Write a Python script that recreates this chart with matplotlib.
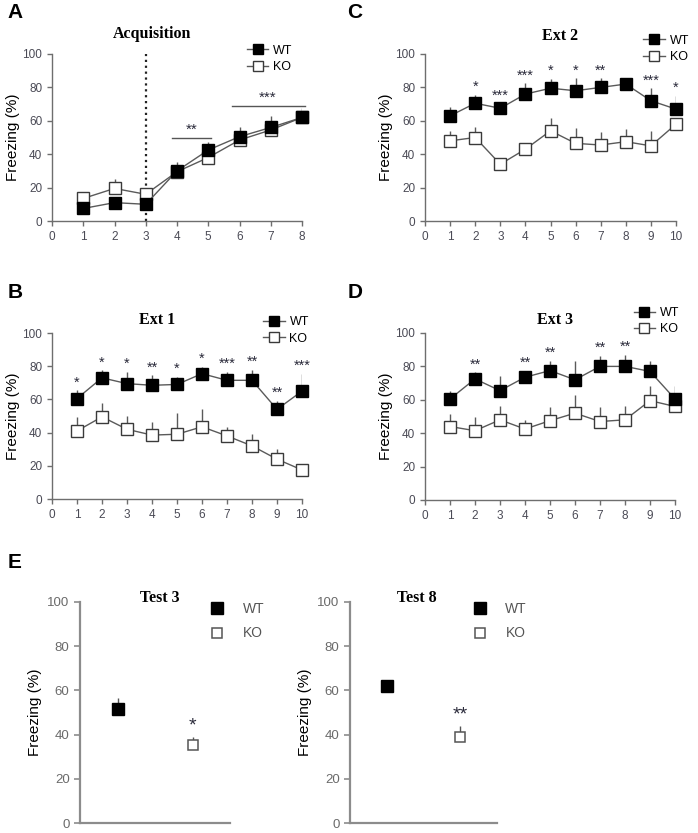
import matplotlib
matplotlib.use('Agg')
import matplotlib.pyplot as plt
import numpy as np

plt.rcParams['font.family'] = ['Liberation Sans', 'DejaVu Sans']

# Acquisition (panel A)
acq_x = [1, 2, 3, 4, 5, 6, 7, 8]
acq_wt = [7.5, 11, 10, 30, 42.5, 50.5, 56, 62]
acq_wt_err = [0, 0, 0, 5.5, 5, 5.5, 7, 5.5]
acq_ko = [13.5, 19.5, 16, 29.5, 38, 48.5, 54.5, 62]
acq_ko_err = [3.5, 5.5, 0, 0, 0, 0, 0, 0]

# Extinction sessions
ext_x = [1, 2, 3, 4, 5, 6, 7, 8, 9, 10]
ext1_wt = [60.5, 73, 69.5, 68.5, 69, 75.5, 71.5, 71.5, 54, 65]
ext1_wt_err = [5, 4.5, 7, 6, 4.5, 4, 5, 6.5, 5, 10.5]
ext1_ko = [41, 49.5, 42, 38.5, 39, 43.5, 38, 32, 24, 17.5]
ext1_ko_err = [8.5, 8.5, 8, 8, 13, 10.5, 5.5, 7, 6, 0]
ext1_stars = ['*', '*', '*', '**', '*', '*', '***', '**', '**', '***']

ext2_wt = [63, 70.5, 67.5, 76, 79.5, 78, 80, 82, 72, 67]
ext2_wt_err = [5, 5, 0, 6.5, 5.5, 7.5, 5.5, 0, 7.5, 8]
ext2_ko = [48, 50, 34, 43, 54, 46.5, 45.5, 47.5, 45, 58]
ext2_ko_err = [6, 6, 0, 3, 7.5, 9, 7.5, 7.5, 9, 0]
ext2_stars = ['', '*', '***', '***', '*', '*', '**', '', '***', '*']

ext3_wt = [60.5, 72.5, 65.5, 73.5, 77.5, 72, 80, 80, 77, 60.5]
ext3_wt_err = [4.5, 4, 9, 4, 6, 11, 6.5, 7, 6.5, 8]
ext3_ko = [44, 41.5, 48, 42.5, 47.5, 52, 47, 48, 59.5, 56]
ext3_ko_err = [7.5, 8, 8.5, 5.5, 8, 11, 8.5, 8, 9, 0]
ext3_stars = ['', '**', '', '**', '**', '', '**', '**', '', '']

# Tests (panel E)
test_groups = ['WT', 'KO']
test3_vals = [51.5, 35.5]
test3_err = [5, 3.5]
test3_stars = ['', '*']
test8_vals = [62, 39]
test8_err = [0, 5]
test8_stars = ['', '**']

TICK_COL = '#4a4a55'
SPINE_COL = '#6e6e6e'
LINE_COL = '#5a5a5a'
W, H = 698, 833

fig = plt.figure(figsize=(W / 100, H / 100), dpi=100)


def px_axes(left, top, right, bottom):
    return fig.add_axes([left / W, 1 - bottom / H, (right - left) / W, (bottom - top) / H])


def style_axes(ax, xmax):
    for s in ['top', 'right']:
        ax.spines[s].set_visible(False)
    for s in ['left', 'bottom']:
        ax.spines[s].set_color(SPINE_COL)
        ax.spines[s].set_linewidth(1.0)
    ax.set_xlim(0, xmax)
    ax.set_ylim(0, 100)
    ax.set_xticks(range(0, xmax + 1))
    ax.set_yticks(range(0, 101, 20))
    ax.tick_params(colors=SPINE_COL, labelcolor=TICK_COL, labelsize=8.5, length=3.5, width=1.0)
    ax.set_ylabel('Freezing (%)', fontsize=11, labelpad=2)


def series(ax, x, wt, wt_err, ko, ko_err):
    z = np.zeros(len(x))
    ax.errorbar(x, wt, yerr=[z, wt_err], fmt='none', ecolor=LINE_COL, elinewidth=1.0, capsize=0, zorder=2)
    ax.errorbar(x, ko, yerr=[z, ko_err], fmt='none', ecolor=LINE_COL, elinewidth=1.0, capsize=0, zorder=2)
    ax.plot(x, wt, color=LINE_COL, lw=1.0, marker='s', ms=8.5, mfc='black', mec='black', zorder=4,
            label='WT', clip_on=False)
    ax.plot(x, ko, color=LINE_COL, lw=1.0, marker='s', ms=8.5, mfc='white', mec='#3a3a3a', mew=1.0, zorder=3,
            label='KO', clip_on=False)


def stars(ax, x, wt, wt_err, marks):
    for xi, m, e, s in zip(x, wt, wt_err, marks):
        if s:
            ax.text(xi, max(m + e, m + 3) + 0.5, s, ha='center', va='bottom', fontsize=10.5, color='#2a2a3a')


def legend(ax, x0, y0):
    ax.legend(loc='upper left', bbox_to_anchor=(x0, y0), frameon=False, fontsize=9, handlelength=1.7,
              markerscale=0.85, handletextpad=0.4, labelspacing=0.35, borderpad=0, borderaxespad=0)


title_font = dict(family='Liberation Serif', fontweight='bold', fontsize=11.5)

# Panel A
axA = px_axes(52, 54, 302, 221)
style_axes(axA, 8)
axA.axvline(3, color='#222222', ls=':', lw=1.6, zorder=1)
series(axA, acq_x, acq_wt, acq_wt_err, acq_ko, acq_ko_err)
axA.plot([3.85, 5.1], [50, 50], color='#555555', lw=1.0)
axA.text(4.47, 50.5, '**', ha='center', va='bottom', fontsize=11, color='#2a2a3a')
axA.plot([5.75, 8.1], [69, 69], color='#555555', lw=1.0, clip_on=False)
axA.text(6.9, 69.5, '***', ha='center', va='bottom', fontsize=11, color='#2a2a3a')
legend(axA, 0.78, 1.055)
axA.text(0.40, 1.12, 'Acquisition', transform=axA.transAxes, ha='center', va='center', **title_font)

# Panel C
axC = px_axes(425, 54, 676, 221)
style_axes(axC, 10)
series(axC, ext_x, ext2_wt, ext2_wt_err, ext2_ko, ext2_ko_err)
stars(axC, ext_x, ext2_wt, ext2_wt_err, ext2_stars)
legend(axC, 0.87, 1.115)
axC.text(0.54, 1.11, 'Ext 2', transform=axC.transAxes, ha='center', va='center', **title_font)

# Panel B
axB = px_axes(52, 333, 302, 499)
style_axes(axB, 10)
series(axB, ext_x, ext1_wt, ext1_wt_err, ext1_ko, ext1_ko_err)
stars(axB, ext_x, ext1_wt, ext1_wt_err, ext1_stars)
legend(axB, 0.845, 1.10)
axB.text(0.42, 1.078, 'Ext 1', transform=axB.transAxes, ha='center', va='center', **title_font)

# Panel D
axD = px_axes(425, 333, 675, 500)
style_axes(axD, 10)
series(axD, ext_x, ext3_wt, ext3_wt_err, ext3_ko, ext3_ko_err)
stars(axD, ext_x, ext3_wt, ext3_wt_err, ext3_stars)
legend(axD, 0.835, 1.155)
axD.text(0.52, 1.078, 'Ext 3', transform=axD.transAxes, ha='center', va='center', **title_font)


# Panel E
def test_panel(ax, vals, errs, marks, title, tx, lx):
    for s in ['top', 'right']:
        ax.spines[s].set_visible(False)
    for s in ['left', 'bottom']:
        ax.spines[s].set_color('#8c8c8c')
        ax.spines[s].set_linewidth(1.6)
    ax.set_xlim(0, 4)
    ax.set_ylim(0, 100)
    ax.set_xticks([])
    ax.set_yticks(range(0, 101, 20))
    ax.tick_params(axis='y', colors='#8c8c8c', labelcolor='#6a6a6a', labelsize=9.5, length=4, width=1.2)
    ax.set_ylabel('Freezing (%)', fontsize=11, labelpad=4)
    xs = [1, 3]
    for i, (g, v, e) in enumerate(zip(test_groups, vals, errs)):
        if e > 0:
            ax.errorbar([xs[i]], [v], yerr=[[0], [e]], fmt='none', ecolor='#555555', elinewidth=1.0, capsize=0, zorder=2)
        if g == 'WT':
            ax.plot([xs[i]], [v], ls='none', marker='s', ms=9, mfc='black', mec='black', zorder=3, label=g)
        else:
            ax.plot([xs[i]], [v], ls='none', marker='s', ms=7.5, mfc='white', mec='#555555', mew=1.1, zorder=3, label=g)
        if marks[i]:
            ax.text(xs[i], v + e + 1.0, marks[i], ha='center', va='bottom', fontsize=14, color='#2a2a3a')
    ax.legend(loc='upper left', bbox_to_anchor=(lx, 1.0), frameon=False, fontsize=10, handlelength=1.0,
              handletextpad=1.3, labelspacing=0.75, borderpad=0, borderaxespad=0, labelcolor='#555555')
    ax.text(tx, 1.02, title, transform=ax.transAxes, ha='center', va='center', **title_font)


axE1 = px_axes(80, 602, 230, 823)
test_panel(axE1, test3_vals, test3_err, test3_stars, 'Test 3', 0.533, 0.87)
axE2 = px_axes(350, 602, 497, 823)
test_panel(axE2, test8_vals, test8_err, test8_stars, 'Test 8', 0.456, 0.84)

for lbl, x, y in [('A', 15, 12), ('C', 355, 12), ('B', 15, 293), ('D', 355, 293), ('E', 15, 563)]:
    fig.text(x / W, 1 - y / H, lbl, fontsize=15, fontweight='bold', ha='center', va='center')

fig.savefig('out.png', dpi=100)
